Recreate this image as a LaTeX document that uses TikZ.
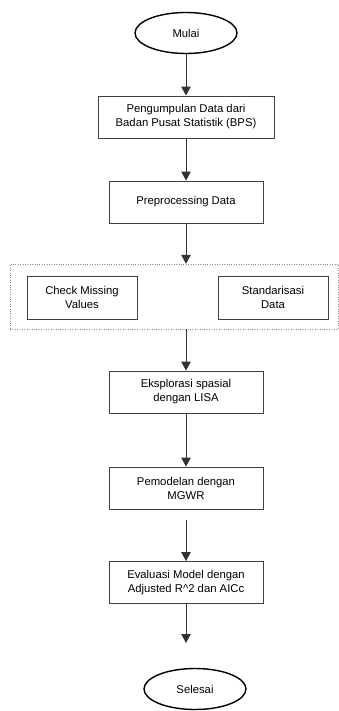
\documentclass[tikz,border=0pt]{standalone}
\usepackage{fontspec}
\setmainfont{Liberation Sans}
\usetikzlibrary{arrows.meta, positioning, shapes.geometric}

\begin{document}
\begin{tikzpicture}[x=1pt, y=-1pt, >={Triangle[length=9pt, width=9.5pt]}, font=\fontsize{11.3}{14}\selectfont,
    terminal/.style={ellipse, draw, line width=1.4pt, minimum width=102pt, minimum height=41pt, inner sep=0pt},
    process/.style={rectangle, draw=black!75, line width=0.9pt, minimum width=154pt, minimum height=42pt, align=center, inner sep=0pt},
    flow/.style={->, draw=black!80, line width=1pt}]
    \useasboundingbox (0,0) rectangle (339,711);

    \node[terminal] (mulai) at (186,33) {Mulai};
    \node[process, minimum width=176pt] (pengumpulan) at (186,117) {Pengumpulan Data dari\\Badan Pusat Statistik (BPS)};
    \node[process] (preproc) at (186,202) {Preprocessing Data};

    % kotak titik-titik untuk tahap preprocessing
    \node[draw=black!45, dotted, minimum width=328pt, minimum height=65pt, inner sep=0pt] (grup) at (174,296.5) {};
    \node[process, minimum width=110pt, minimum height=43pt] (missing) at (82,297.5) {Check Missing\\Values};
    \node[process, minimum width=110pt, minimum height=43pt] (standar) at (273,297.5) {Standarisasi\\Data};

    \node[process] (eksplorasi) at (186,392) {Eksplorasi spasial\\dengan LISA};
    \node[process] (pemodelan) at (186,488) {Pemodelan dengan\\MGWR};
    \node[process] (evaluasi) at (186,582.5) {Evaluasi Model dengan\\Adjusted R\textasciicircum 2 dan AICc};
    \node[terminal] (selesai) at (195,689) {Selesai};

    \coordinate (awal) at (186,520);
    \coordinate (akhir) at (186,643);

    \draw[flow] (mulai) -- (pengumpulan);
    \draw[flow] (pengumpulan) -- (preproc);
    \draw[flow] (preproc.south) -- (preproc.south |- grup.north);
    \draw[flow] (grup.south -| eksplorasi) -- (eksplorasi);
    \draw[flow] (eksplorasi) -- (pemodelan);
    \draw[flow] (awal) -- (evaluasi);
    \draw[flow] (evaluasi) -- (akhir);
\end{tikzpicture}
\end{document}
